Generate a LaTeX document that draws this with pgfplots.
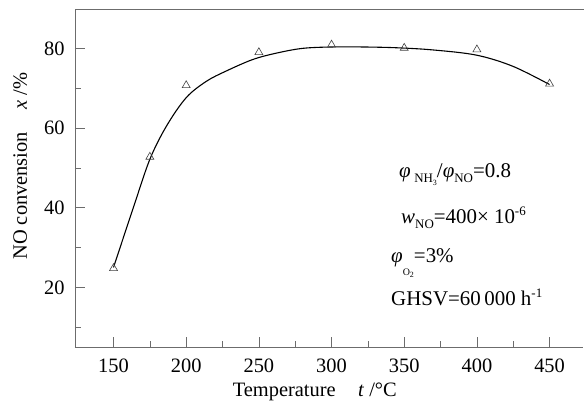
\documentclass[border=0pt]{standalone}
\usepackage{fontspec}
\setmainfont{Liberation Serif}
\usepackage{pgfplots}
\pgfplotsset{compat=1.18}
\newcommand\sub[1]{\raisebox{-0.45ex}{\fontsize{13}{13}\selectfont #1}}
\newcommand\subsub[1]{\raisebox{-0.5ex}{\fontsize{8}{8}\selectfont #1}}
\newcommand\sups[1]{\raisebox{0.9ex}{\fontsize{13}{13}\selectfont #1}}
\begin{document}
\begin{tikzpicture}
\path[use as bounding box] (-75bp,-55bp) rectangle (509bp,347bp);
\begin{axis}[
  at={(0,0)}, anchor=origin,
  scale only axis, width=508bp, height=338bp,
  xmin=123.5, xmax=473, ymin=5, ymax=90,
  axis x line*=bottom, axis y line*=left,
  axis line style={draw=gray!85!black, line width=0.8pt},
  xtick={150,200,...,450}, minor xtick={175,225,...,425},
  ytick={20,40,60,80}, minor ytick={10,30,50,70},
  tick align=inside,
  major tick length=10bp, minor tick length=6bp,
  tick style={draw=gray!85!black, line width=0.7pt},
  /pgf/number format/assume math mode=true,
  ticklabel style={font=\fontsize{20.5}{22}\selectfont},
  xticklabel style={yshift=-8bp},
  yticklabel style={xshift=-7bp},
  xlabel={Temperature\hspace{1.1em}\textit{t} /°C},
  xlabel style={font=\fontsize{20.5}{22}\selectfont, at={(axis description cs:0.472,0)}, anchor=north, yshift=-32.5bp},
  ylabel={NO convension\hspace{1.1em}\textit{x} /\%},
  ylabel style={font=\fontsize{20.5}{22}\selectfont, at={(axis description cs:-0.108,0.535)}, anchor=center},
  clip=false,
]
\addplot[black, line width=1.1pt, smooth, tension=0.55] coordinates {
 (150,25.0) (156.5,32.2) (163.7,40.1) (175,52.2) (186.5,60.6) (200,67.7) (213.8,71.8)
 (227.5,74.4) (245.8,77.3) (262,78.9) (280,80.1) (300,80.45) (322,80.45) (345,80.25)
 (370,79.7) (399.7,78.4) (424.7,75.6) (450,71.0)
};
\addplot[only marks, mark=triangle, mark size=4.6bp, mark options={draw=black!75, line width=0.6pt, fill=white}] coordinates {
 (150,24.8) (175,52.8) (200,70.8) (250,79.1) (300,81.0) (350,80.2) (400,79.8) (450,71.2)
};
\end{axis}
\draw[gray!85!black, line width=0.8pt] (0,338bp) -- (509bp,338bp);
\begin{scope}[font=\fontsize{21}{24}\selectfont]
\node[anchor=base west, inner sep=0] at (324bp,169bp) {\textit{φ}\,\sub{NH\subsub{3}}/\textit{φ}\sub{NO}=0.8};
\node[anchor=base west, inner sep=0] at (326bp,123bp) {\textit{w}\sub{NO}=400× 10\sups{-6}};
\node[anchor=base west, inner sep=0] at (316bp,84bp) {\textit{φ}\raisebox{-1.3ex}{\fontsize{10}{10}\selectfont O\subsub{2}}=3\%};
\node[anchor=base west, inner sep=0] at (316bp,41bp) {GHSV=60\,000 h\sups{-1}};
\end{scope}
\end{tikzpicture}
\end{document}
